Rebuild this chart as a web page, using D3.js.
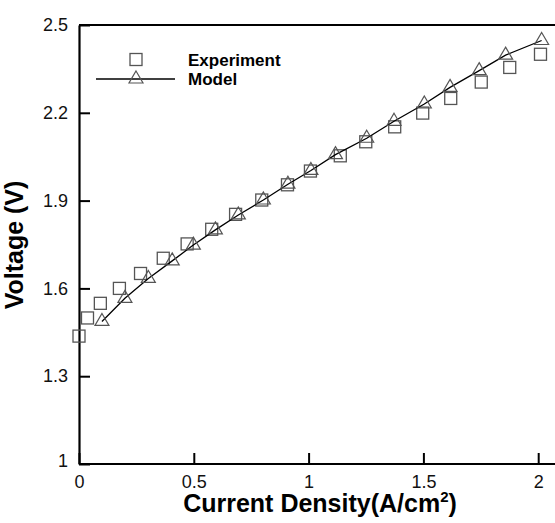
<!DOCTYPE html>
<html>
<head>
<meta charset="utf-8">
<script src="https://cdn.jsdelivr.net/npm/d3@7"></script>
<style>
  body { margin: 0; background: #fff; }
  svg { display: block; font-family: "Liberation Sans", Arial, sans-serif; }
</style>
</head>
<body>
<div id="chart"></div>
<script>
// experiment (squares)
var expX = [0, 0.037, 0.093, 0.176, 0.268, 0.367, 0.471, 0.578, 0.682, 0.796, 0.908, 1.008, 1.138, 1.249, 1.375, 1.497, 1.619, 1.752, 1.876, 2.01];
var expY = [1.437, 1.499, 1.549, 1.60, 1.651, 1.703, 1.752, 1.802, 1.853, 1.902, 1.954, 2.001, 2.053, 2.101, 2.152, 2.199, 2.249, 2.305, 2.355, 2.40];

// model (triangles + line)
var modelX = [0.1, 0.2, 0.302, 0.406, 0.498, 0.594, 0.694, 0.803, 0.91, 1.01, 1.117, 1.253, 1.372, 1.504, 1.616, 1.743, 1.858, 2.015];
var modelY = [1.487, 1.566, 1.634, 1.694, 1.748, 1.80, 1.851, 1.902, 1.956, 2.003, 2.057, 2.113, 2.171, 2.23, 2.287, 2.344, 2.397, 2.447];

var xTicks = [0, 0.5, 1, 1.5, 2];
var yTicks = [1, 1.3, 1.6, 1.9, 2.2, 2.5];

var width = 555;
var height = 523;
var plotLeft = 79, plotTop = 25, plotBottom = 464;

var svg = d3.select("#chart")
  .append("svg")
  .attr("width", width)
  .attr("height", height);

svg.append("rect").attr("width", width).attr("height", height).attr("fill", "#fff");

var x = d3.scaleLinear().domain([0, 2.1]).range([plotLeft, plotLeft + 2.1 * 229.6]);
var y = d3.scaleLinear().domain([1, 2.5]).range([plotBottom, plotTop]);

// frame: top border
svg.append("line")
  .attr("x1", plotLeft).attr("x2", width + 5)
  .attr("y1", plotTop).attr("y2", plotTop)
  .attr("stroke", "#000").attr("stroke-width", 2.2);

// x axis (ticks point inward)
var xAxis = svg.append("g")
  .attr("transform", "translate(0," + plotBottom + ")")
  .call(d3.axisBottom(x).tickValues(xTicks).tickSizeInner(-11).tickSizeOuter(0).tickPadding(11)
    .tickFormat(d3.format("")));
xAxis.select(".domain").attr("stroke-width", 2.2).attr("d", "M" + plotLeft + ",0H" + (width + 5));
xAxis.selectAll(".tick line").attr("stroke-width", 2);
xAxis.selectAll(".tick text")
  .attr("font-size", 18).attr("fill", "#111").attr("font-family", "Liberation Sans, Arial, sans-serif");

// y axis
var yAxis = svg.append("g")
  .attr("transform", "translate(" + plotLeft + ",0)")
  .call(d3.axisLeft(y).tickValues(yTicks).tickSizeInner(-11).tickSizeOuter(0).tickPadding(11)
    .tickFormat(d3.format("")));
yAxis.select(".domain").attr("stroke-width", 2.2);
yAxis.selectAll(".tick line").attr("stroke-width", 2);
yAxis.selectAll(".tick text")
  .attr("font-size", 18).attr("fill", "#111").attr("font-family", "Liberation Sans, Arial, sans-serif")
  .attr("dy", function(d) { return d === 1 ? "0.15em" : "0.32em"; });

// experiment squares
var sq = 12;
svg.append("g")
  .selectAll("rect")
  .data(expX.map(function(d, i) { return [d, expY[i]]; }))
  .join("rect")
    .attr("x", function(d) { return x(d[0]) - sq / 2; })
    .attr("y", function(d) { return y(d[1]) - sq / 2; })
    .attr("width", sq).attr("height", sq)
    .attr("fill", "none").attr("stroke", "#555").attr("stroke-width", 1.3);

// model line
var model = modelX.map(function(d, i) { return [d, modelY[i]]; });
svg.append("path")
  .datum(model)
  .attr("fill", "none").attr("stroke", "#000").attr("stroke-width", 1.3)
  .attr("d", d3.line().x(function(d) { return x(d[0]); }).y(function(d) { return y(d[1]); }));

// triangles
function tri(cx, cy) {
  return "M" + cx + "," + (cy - 8) + "L" + (cx + 7) + "," + (cy + 4) + "L" + (cx - 7) + "," + (cy + 4) + "Z";
}
svg.append("g")
  .selectAll("path")
  .data(model)
  .join("path")
    .attr("d", function(d) { return tri(x(d[0]), y(d[1])); })
    .attr("fill", "none").attr("stroke", "#555").attr("stroke-width", 1.2);

// legend
var lg = svg.append("g");
lg.append("rect").attr("x", 136 - sq / 2).attr("y", 59.5 - sq / 2).attr("width", sq).attr("height", sq)
  .attr("fill", "none").attr("stroke", "#555").attr("stroke-width", 1.3);
lg.append("line").attr("x1", 96).attr("x2", 175).attr("y1", 79).attr("y2", 79)
  .attr("stroke", "#000").attr("stroke-width", 1.3);
lg.append("path").attr("d", tri(136, 79)).attr("fill", "none").attr("stroke", "#555").attr("stroke-width", 1.2);
lg.append("text").attr("x", 188).attr("y", 66).attr("font-size", 17).attr("font-weight", "bold").text("Experiment");
lg.append("text").attr("x", 188).attr("y", 85).attr("font-size", 17).attr("font-weight", "bold").text("Model");

// axis titles
var xt = svg.append("text")
  .attr("x", 320).attr("y", 512)
  .attr("text-anchor", "middle")
  .attr("font-size", 25).attr("font-weight", "bold");
xt.append("tspan").text("Current Density(A/cm");
xt.append("tspan").attr("font-size", 15).attr("dy", -10).text("2");
xt.append("tspan").attr("dy", 10).text(")");

svg.append("text")
  .attr("transform", "translate(23,245) rotate(-90)")
  .attr("text-anchor", "middle")
  .attr("font-size", 25).attr("font-weight", "bold")
  .text("Voltage (V)");
</script>
</body>
</html>
